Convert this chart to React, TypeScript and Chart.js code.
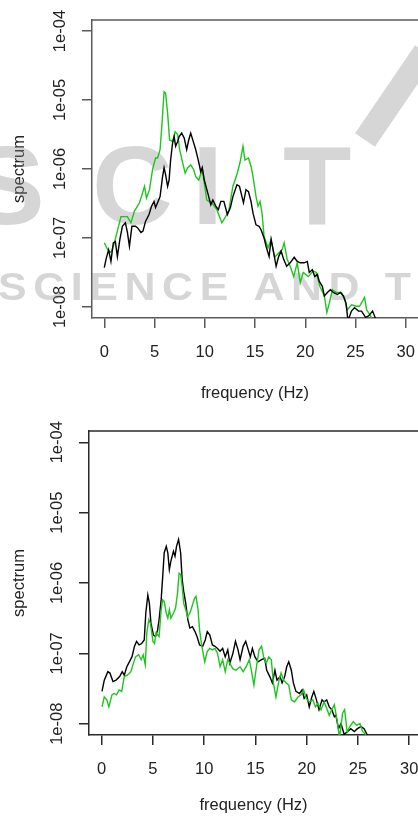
import React, { useEffect, useRef } from "react";
import { Chart, registerables } from "chart.js";

Chart.register(...registerables);

// frequency (Hz), log10(spectrum)
const topBlack: [number, number][] = [
  [0, -7.43], [0.17, -7.31], [0.43, -7.17], [0.66, -7.34], [0.9, -7.07], [1.1, -7.05], [1.3, -7.27], [1.55, -7.02],
  [1.8, -6.83], [2.1, -6.78], [2.3, -6.92], [2.5, -7.12], [2.75, -6.83], [3.1, -6.83], [3.3, -6.85], [3.65, -6.92],
  [3.85, -6.9], [4.1, -6.76], [4.45, -6.66], [4.7, -6.54], [4.95, -6.47], [5.1, -6.56], [5.3, -6.49], [5.55, -6.4],
  [5.8, -6.11], [5.95, -5.98], [6.1, -6.08], [6.3, -6.25], [6.45, -6.16], [6.6, -5.87], [6.8, -5.62], [6.95, -5.53],
  [7.1, -5.67], [7.3, -5.6], [7.45, -5.53], [7.7, -5.48], [7.95, -5.55], [8.2, -5.72], [8.4, -5.58], [8.6, -5.48],
  [8.85, -5.6], [9.1, -5.72], [9.35, -5.87], [9.6, -6.04], [9.75, -5.98], [9.95, -6.16], [10.3, -6.35], [10.6, -6.52],
  [10.8, -6.45], [11.1, -6.54], [11.35, -6.59], [11.6, -6.47], [11.9, -6.47], [12.25, -6.66], [12.55, -6.56], [12.8, -6.4],
  [13.2, -6.23], [13.45, -6.25], [13.7, -6.4], [13.85, -6.49], [14.1, -6.3], [14.35, -6.33], [14.6, -6.47], [14.8, -6.64],
  [15.1, -6.81], [15.4, -6.83], [15.6, -6.88], [15.9, -7.0], [16.1, -7.12], [16.4, -7.27], [16.6, -7.02], [16.85, -7.21],
  [17.1, -7.41], [17.35, -7.27], [17.6, -7.19], [17.85, -7.31], [18.15, -7.41], [18.5, -7.36], [18.9, -7.28], [19.2, -7.34],
  [19.5, -7.36], [19.9, -7.36], [20.2, -7.34], [20.4, -7.5], [20.7, -7.46], [20.95, -7.56], [21.2, -7.53], [21.4, -7.63],
  [21.7, -7.7], [21.9, -7.84], [22.2, -7.79], [22.5, -7.75], [22.8, -7.79], [23.2, -7.82], [23.5, -7.79], [23.8, -7.84],
  [24.05, -7.94], [24.25, -8.2], [24.6, -8.06], [24.9, -8.01], [25.3, -8.06], [25.6, -8.06], [26.0, -8.15], [26.3, -8.13],
  [26.7, -8.06], [26.95, -8.15], [27.1, -8.3],
];

const topGreen: [number, number][] = [
  [0, -7.07], [0.34, -7.17], [0.67, -7.21], [1.0, -7.07], [1.66, -6.69], [2.3, -6.69], [2.65, -6.78], [3.0, -6.61],
  [3.5, -6.49], [3.8, -6.35], [4.0, -6.25], [4.2, -6.42], [4.5, -6.3], [4.8, -6.01], [5.1, -5.84], [5.3, -5.84],
  [5.55, -5.72], [5.7, -5.43], [5.95, -4.88], [6.1, -4.9], [6.3, -5.19], [6.5, -5.58], [6.8, -5.6], [7.05, -5.46],
  [7.3, -5.5], [7.5, -5.72], [7.8, -5.91], [8.05, -6.06], [8.3, -5.98], [8.6, -5.94], [8.9, -6.01], [9.1, -6.11],
  [9.4, -6.16], [9.75, -6.01], [10.0, -6.25], [10.2, -6.45], [10.7, -6.49], [11.2, -6.59], [11.7, -6.78], [12.0, -6.71],
  [12.4, -6.6], [12.8, -6.25], [13.2, -6.08], [13.5, -5.91], [13.8, -5.67], [14.0, -5.87], [14.35, -5.84], [14.6, -5.96],
  [14.8, -6.11], [15.1, -6.4], [15.3, -6.54], [15.5, -6.47], [15.7, -6.64], [15.9, -6.98], [16.3, -7.14], [16.6, -7.02],
  [16.95, -7.28], [17.4, -7.21], [17.7, -7.17], [17.9, -7.07], [18.2, -7.31], [18.5, -7.41], [18.85, -7.56], [19.2, -7.36],
  [19.5, -7.65], [19.8, -7.5], [20.3, -7.56], [20.8, -7.48], [21.1, -7.5], [21.45, -7.7], [21.9, -7.84], [22.15, -8.08],
  [22.4, -7.94], [22.7, -7.75], [23.1, -7.79], [23.6, -7.79], [23.9, -7.89], [24.2, -8.04], [24.6, -7.97], [25.1, -7.99],
  [25.4, -7.99], [25.9, -7.86], [26.1, -8.04], [26.5, -8.13], [26.9, -8.25],
];

const bottomBlack: [number, number][] = [
  [0.03, -7.54], [0.25, -7.38], [0.6, -7.26], [0.8, -7.28], [1.1, -7.4], [1.4, -7.38], [1.75, -7.33], [2.0, -7.26],
  [2.2, -7.31], [2.45, -7.19], [2.7, -7.12], [2.95, -7.05], [3.2, -6.9], [3.4, -6.83], [3.65, -6.88], [3.9, -6.86],
  [4.15, -6.81], [4.3, -6.43], [4.5, -6.17], [4.65, -6.29], [4.8, -6.57], [5.05, -6.74], [5.25, -6.76], [5.45, -6.67],
  [5.6, -6.52], [5.8, -6.24], [5.95, -5.91], [6.1, -5.57], [6.3, -5.48], [6.45, -5.57], [6.6, -5.81], [6.75, -5.69],
  [7.0, -5.55], [7.15, -5.62], [7.3, -5.48], [7.5, -5.38], [7.7, -5.57], [7.85, -5.95], [8.0, -6.12], [8.2, -6.29],
  [8.4, -6.52], [8.6, -6.64], [8.85, -6.62], [9.1, -6.69], [9.3, -6.76], [9.55, -6.88], [9.85, -6.9], [10.1, -6.81],
  [10.3, -6.69], [10.55, -6.74], [10.8, -6.88], [11.05, -6.9], [11.3, -6.93], [11.55, -6.97], [11.8, -6.93], [12.05, -7.05],
  [12.3, -6.95], [12.5, -7.14], [12.8, -7.0], [13.05, -6.83], [13.3, -6.95], [13.5, -7.09], [13.8, -6.9], [14.05, -6.83],
  [14.3, -6.95], [14.5, -7.05], [14.7, -6.93], [14.95, -7.05], [15.25, -7.12], [15.6, -7.09], [15.9, -7.07], [16.1, -7.24],
  [16.4, -7.33], [16.65, -7.42], [16.9, -7.24], [17.1, -7.38], [17.4, -7.33], [17.6, -7.42], [17.85, -7.33], [18.05, -7.19],
  [18.25, -7.12], [18.5, -7.24], [18.7, -7.42], [18.95, -7.54], [19.3, -7.57], [19.55, -7.52], [19.75, -7.64], [20.0, -7.59],
  [20.25, -7.76], [20.5, -7.62], [20.7, -7.54], [20.95, -7.66], [21.2, -7.8], [21.5, -7.66], [21.7, -7.69], [21.95, -7.66],
  [22.2, -7.76], [22.45, -7.8], [22.7, -7.9], [22.85, -7.88], [23.1, -8.07], [23.35, -8.0], [23.65, -8.15], [24.0, -8.11],
  [24.3, -8.07], [24.65, -8.11], [24.95, -8.07], [25.3, -8.04], [25.6, -8.07], [25.95, -8.17],
];

const bottomGreen: [number, number][] = [
  [0.03, -7.76], [0.25, -7.62], [0.5, -7.66], [0.7, -7.76], [1.0, -7.59], [1.2, -7.57], [1.45, -7.59], [1.7, -7.52],
  [1.95, -7.54], [2.2, -7.33], [2.5, -7.31], [2.85, -7.26], [3.05, -7.16], [3.3, -7.05], [3.6, -7.02], [3.85, -7.09],
  [4.05, -7.02], [4.25, -7.16], [4.4, -6.71], [4.6, -6.52], [4.75, -6.57], [5.0, -6.83], [5.15, -6.86], [5.3, -6.71],
  [5.6, -6.76], [5.8, -6.38], [5.95, -6.24], [6.1, -6.26], [6.3, -6.43], [6.45, -6.5], [6.6, -6.38], [6.75, -6.5],
  [7.0, -6.43], [7.2, -6.36], [7.4, -6.14], [7.55, -5.86], [7.7, -5.88], [7.85, -6.05], [8.0, -6.29], [8.2, -6.38],
  [8.4, -6.48], [8.65, -6.41], [8.9, -6.29], [9.05, -6.22], [9.2, -6.19], [9.4, -6.38], [9.55, -6.67], [9.75, -6.88],
  [9.9, -7.0], [10.05, -7.12], [10.3, -6.97], [10.55, -6.93], [10.8, -6.95], [11.05, -6.93], [11.3, -7.0], [11.55, -7.19],
  [11.8, -7.09], [12.05, -7.26], [12.3, -7.09], [12.5, -7.14], [12.8, -7.22], [13.1, -7.24], [13.5, -7.19], [13.8, -7.26],
  [14.1, -7.19], [14.4, -7.09], [14.6, -7.24], [14.85, -7.45], [15.1, -7.19], [15.35, -6.95], [15.6, -6.9], [15.8, -7.05],
  [16.05, -7.14], [16.3, -7.05], [16.55, -7.09], [16.75, -7.42], [17.0, -7.62], [17.3, -7.38], [17.5, -7.28], [17.75, -7.38],
  [18.0, -7.42], [18.25, -7.45], [18.5, -7.66], [18.8, -7.69], [19.15, -7.62], [19.45, -7.59], [19.7, -7.52], [19.95, -7.64],
  [20.25, -7.69], [20.6, -7.66], [20.85, -7.76], [21.1, -7.71], [21.4, -7.8], [21.7, -7.69], [21.95, -7.78], [22.2, -7.88],
  [22.45, -7.8], [22.7, -7.73], [22.95, -7.94], [23.2, -8.2], [23.5, -7.85], [23.7, -7.8], [23.95, -8.12], [24.2, -8.04],
  [24.55, -7.97], [24.85, -8.02], [25.2, -8.0], [25.45, -8.11], [25.8, -8.16],
];

const xTicks = [0, 5, 10, 15, 20, 25, 30];
const yTicks = [1e-8, 1e-7, 1e-6, 1e-5, 1e-4];
const yMinLog = -8.16;
const yMaxLog = -3.84;
const xTitle = "frequency (Hz)";
const yTitle = "spectrum";
const watermarkBig = ["S", "C", "I", "T"];
const watermarkSmall = "SCIENCE AND TECHNOLOGY";

const BLACK = "#000000";
const GREEN = "#1ec51e";
const FONT = "'Liberation Sans', Arial, sans-serif";

type PanelCfg = {
  black: [number, number][];
  green: [number, number][];
  height: number;
  left: number;
  top: number;
  bottom: number;
  xMin: number;
  xMax: number;
  axisColor: string;
  greenFirst: boolean;
  watermark: boolean;
};

const topBorder = {
  id: "topBorder",
  afterDraw(chart: any) {
    const { ctx, chartArea } = chart;
    const col = chart.options.plugins.topBorder.color;
    ctx.save();
    ctx.strokeStyle = col;
    ctx.lineWidth = 1.5;
    ctx.beginPath();
    ctx.moveTo(chartArea.left - 0.75, chartArea.top);
    ctx.lineTo(chartArea.right + 2, chartArea.top);
    ctx.stroke();
    ctx.restore();
  },
};

const watermarkPlugin = {
  id: "watermark",
  beforeDatasetsDraw(chart: any) {
    if (!chart.options.plugins.watermark.show) return;
    const { ctx } = chart;
    ctx.save();
    ctx.fillStyle = "rgba(140,140,140,0.36)";
    ctx.strokeStyle = "rgba(140,140,140,0.36)";
    ctx.textBaseline = "alphabetic";
    ctx.font = `bold 112px ${FONT}`;
    const xs = [-30, 92, 192, 283];
    watermarkBig.forEach((ch, i) => ctx.fillText(ch, xs[i], 224));
    ctx.lineWidth = 24;
    ctx.beginPath();
    ctx.moveTo(365, 140);
    ctx.lineTo(425, 52);
    ctx.stroke();
    ctx.translate(-2, 300);
    ctx.scale(1.1, 1);
    ctx.font = `bold 39px ${FONT}`;
    (ctx as any).letterSpacing = "6px";
    ctx.fillText(watermarkSmall, 0, 0);
    ctx.restore();
  },
};

function fmt(v: number) {
  const e = Math.round(Math.log10(v));
  const s = Math.abs(e).toString().padStart(2, "0");
  return `1e${e < 0 ? "-" : "+"}${s}`;
}

function Panel({ cfg }: { cfg: PanelCfg }) {
  const ref = useRef<HTMLCanvasElement | null>(null);
  useEffect(() => {
    if (!ref.current) return;
    const toPts = (arr: [number, number][]) => arr.map(([f, l]) => ({ x: f, y: Math.pow(10, l) }));
    const ds = [
      { label: "black", data: toPts(cfg.black), borderColor: BLACK, borderWidth: 1.4 },
      { label: "green", data: toPts(cfg.green), borderColor: GREEN, borderWidth: 1.4 },
    ].map((d) => ({ ...d, pointRadius: 0, tension: 0, fill: false }));
    if (!cfg.greenFirst) ds.reverse();
    const chart = new Chart(ref.current, {
      type: "line",
      data: { datasets: ds as any },
      plugins: [watermarkPlugin, topBorder],
      options: {
        animation: false,
        responsive: false,
        events: [],
        layout: { padding: { left: 0, right: 0, top: cfg.top, bottom: 0 } },
        plugins: {
          legend: { display: false },
          tooltip: { enabled: false },
          topBorder: { color: cfg.axisColor },
          watermark: { show: cfg.watermark },
        } as any,
        scales: {
          x: {
            type: "linear",
            min: cfg.xMin,
            max: cfg.xMax,
            afterBuildTicks: (s: any) => {
              s.ticks = xTicks.map((v) => ({ value: v }));
            },
            afterFit: (s: any) => {
              s.height = cfg.height - cfg.bottom;
              s.paddingLeft = 0;
              s.paddingRight = 0;
            },
            grid: { display: true, drawOnChartArea: false, drawTicks: true, tickLength: 10, color: cfg.axisColor, lineWidth: 1.5 },
            border: { display: true, color: cfg.axisColor, width: 1.5 },
            ticks: { color: "#222", font: { family: FONT, size: 16.5 }, padding: 15, maxRotation: 0, autoSkip: false },
            title: { display: true, text: xTitle, color: "#222", font: { family: FONT, size: 16.5 }, padding: { top: 0, bottom: 8 } },
          },
          y: {
            type: "logarithmic",
            min: Math.pow(10, yMinLog),
            max: Math.pow(10, yMaxLog),
            afterBuildTicks: (s: any) => {
              s.ticks = yTicks.map((v) => ({ value: v }));
            },
            afterFit: (s: any) => {
              s.width = cfg.left;
              s.paddingTop = 0;
              s.paddingBottom = 0;
            },
            grid: { display: true, drawOnChartArea: false, drawTicks: true, tickLength: 10, color: cfg.axisColor, lineWidth: 1.5 },
            border: { display: true, color: cfg.axisColor, width: 1.5 },
            ticks: {
              color: "#222",
              font: { family: FONT, size: 16.5 },
              padding: 0,
              minRotation: 90,
              maxRotation: 90,
              crossAlign: "center",
              autoSkip: false,
              callback: (v: any) => fmt(Number(v)),
            },
            title: { display: true, text: yTitle, color: "#222", font: { family: FONT, size: 16.5 }, padding: { top: 10, bottom: 0 } },
          },
        },
      } as any,
    });
    return () => chart.destroy();
  }, [cfg]);
  return <canvas ref={ref} width={418} height={cfg.height} style={{ display: "block", width: 418, height: cfg.height }} />;
}

const topCfg: PanelCfg = {
  black: topBlack,
  green: topGreen,
  height: 411,
  left: 92,
  top: 20,
  bottom: 318,
  xMin: -1.224,
  xMax: 31.22,
  axisColor: "#5a5a5a",
  greenFirst: true,
  watermark: true,
};

const bottomCfg: PanelCfg = {
  black: bottomBlack,
  green: bottomGreen,
  height: 412,
  left: 89,
  top: 20,
  bottom: 324,
  xMin: -1.24,
  xMax: 30.86,
  axisColor: "#2a2a2a",
  greenFirst: false,
  watermark: false,
};

export default function App() {
  return (
    <div style={{ position: "absolute", left: 0, top: 0, width: 418, height: 823, overflow: "hidden", background: "#fff" }}>
      <Panel cfg={topCfg} />
      <Panel cfg={bottomCfg} />
    </div>
  );
}
